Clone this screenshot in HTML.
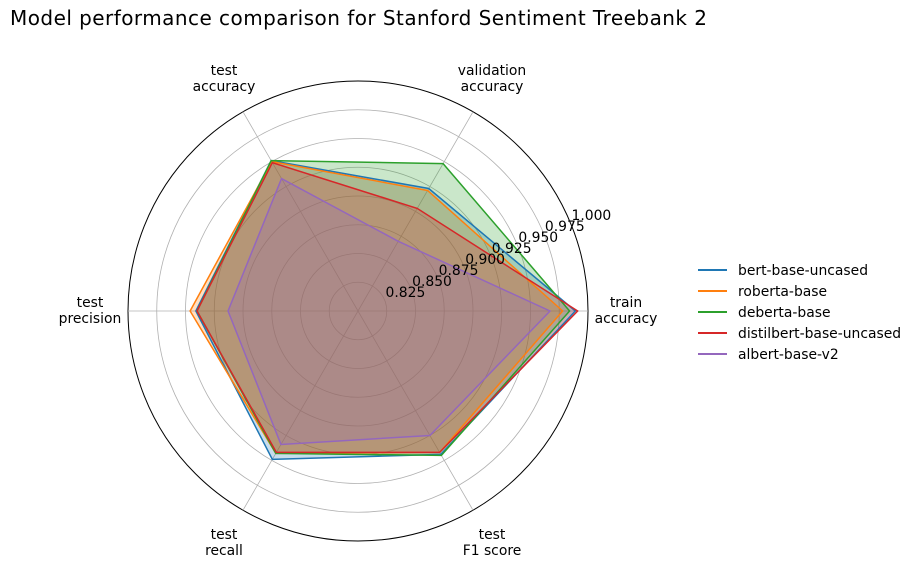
<!DOCTYPE html>
<html><head><meta charset="utf-8"><style>
body{margin:0;background:#fff}
svg{display:block;font-family:"DejaVu Sans","Liberation Sans",sans-serif}
</style></head><body>
<svg id="chart" width="916" height="573" viewBox="0 0 916 573">
<text x="10" y="25" font-size="20" fill="#000" textLength="697">Model performance comparison for Stanford Sentiment Treebank 2</text>
<g id="grid"></g><g id="series"></g><g id="labels"></g><g id="legend"></g>
</svg>
<script>
const axes = [["train","accuracy"],["validation","accuracy"],["test","accuracy"],["test","precision"],["test","recall"],["test","F1 score"]];
const ticks = [0.825,0.850,0.875,0.900,0.925,0.950,0.975,1.000];
const models = ["bert-base-uncased","roberta-base","deberta-base","distilbert-base-uncased","albert-base-v2"];
const bert = [0.989,0.923,0.951,0.941,0.949,0.944];
const roberta = [0.978,0.921,0.950,0.946,0.943,0.942];
const deberta = [0.984,0.948,0.951,0.940,0.943,0.945];
const distilbert = [0.991,0.903,0.949,0.940,0.942,0.942];
const albert = [0.967,0.870,0.933,0.913,0.934,0.925];
const seriesVals = [bert,roberta,deberta,distilbert,albert];
const colors = ["#1f77b4","#ff7f0e","#2ca02c","#d62728","#9467bd"];
const NS="http://www.w3.org/2000/svg";
const cx=358, cy=311, R=230, rmin=0.8, rmax=1.0;
function rad(v){return (v-rmin)/(rmax-rmin)*R;}
function pt(i,v){const a=i*Math.PI/3;const r=rad(v);return [cx+r*Math.cos(a),cy-r*Math.sin(a)];}
function mk(t,attrs,parent){const e=document.createElementNS(NS,t);for(const k in attrs)e.setAttribute(k,attrs[k]);parent.appendChild(e);return e;}
const grid=document.getElementById('grid');
ticks.forEach((t,k)=>{
  const c=mk('circle',{cx:cx,cy:cy,r:rad(t),fill:'none',stroke:t===1?'#000':'#b0b0b0','stroke-width':t===1?1:0.8},grid);
  
  
});
axes.forEach((a,i)=>{
  const [x,y]=pt(i,1.0);
  const l=mk('line',{x1:cx,y1:cy,x2:x,y2:y,stroke:'#b0b0b0','stroke-width':0.8},grid);
  
  
});
const ser=document.getElementById('series');
seriesVals.forEach((vals,s)=>{
  const p=vals.map((v,i)=>pt(i,v).join(',')).join(' ');
  const f=mk('polygon',{points:p,fill:colors[s],'fill-opacity':0.25,stroke:'none'},ser);
  
  
});
seriesVals.forEach((vals,s)=>{
  const p=vals.map((v,i)=>pt(i,v).join(',')).join(' ');
  const l=mk('polygon',{points:p,fill:'none',stroke:colors[s],'stroke-width':1.5},ser);
  
  
});
const lab=document.getElementById('labels');
ticks.forEach(t=>{
  const a=22.5*Math.PI/180, r=rad(t);
  const tx=mk('text',{x:cx+r*Math.cos(a)+1,y:cy-r*Math.sin(a)-3,'font-size':13.9,fill:'#000'},lab);
  tx.textContent=t.toFixed(3);
  
  
});
axes.forEach((a,i)=>{
  const ang=i*Math.PI/3, r=268;
  const x=cx+r*Math.cos(ang), y=cy-r*Math.sin(ang);
  const tx=mk('text',{x:x,y:y-4,'font-size':13.9,'text-anchor':'middle',fill:'#000'},lab);
  
  
  a.forEach((line,j)=>{const ts=mk('tspan',{x:x,dy:j===0?0:16},tx);ts.textContent=line;});
});
const leg=document.getElementById('legend');
models.forEach((m,s)=>{
  const y=270+21*s;
  const g=mk('g',{},leg);
  
  
  mk('line',{x1:698,y1:y,x2:727,y2:y,stroke:colors[s],'stroke-width':2},g);
  const t=mk('text',{x:738,y:y+5,'font-size':13.9,fill:'#000'},g);
  t.textContent=m;
});
</script>
</body></html>
